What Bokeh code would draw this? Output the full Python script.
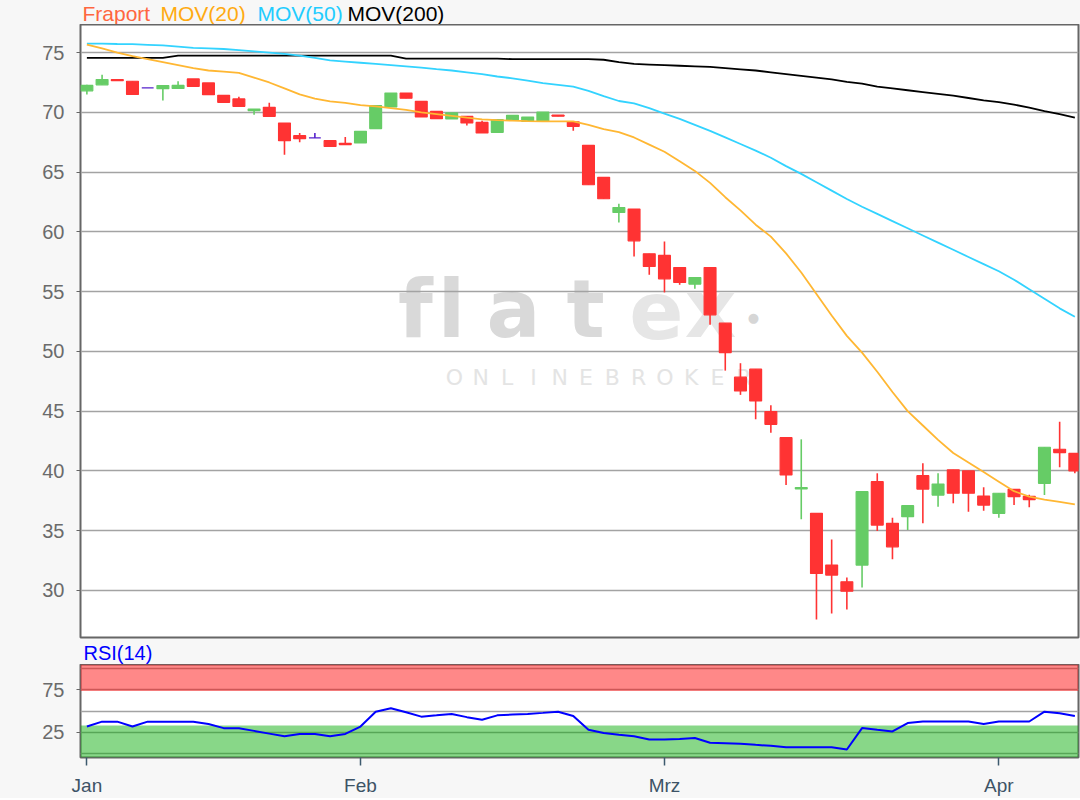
import pandas as pd
from bokeh.plotting import figure
from bokeh.layouts import column
from bokeh.models import Range1d, FixedTicker, Label, BoxAnnotation, ColumnDataSource
from bokeh.embed import file_html
from bokeh.resources import INLINE

# ---------------- data ----------------
dates = pd.bdate_range("2020-01-08", "2020-04-08")
month_names = {1: "Jan", 2: "Feb", 3: "Mrz", 4: "Apr"}

opens = [71.8, 72.3, 72.75, 72.6, 72.05, 71.98, 72.0, 72.8, 72.46, 71.42,
         71.12, 70.15, 70.42, 69.1, 68.05, 67.86, 67.63, 67.4, 67.44, 68.64,
         70.45, 71.62, 70.92, 70.08, 69.45, 69.67, 69.16, 68.33, 69.39, 69.25,
         69.3, 69.76, 69.2, 67.24, 64.56, 61.63, 61.91, 58.17, 58.03, 57.02,
         55.63, 57.02, 52.36, 47.84, 48.51, 44.97, 42.78, 38.5, 36.45, 32.12,
         30.72, 32.12, 39.1, 35.61, 36.17, 39.6, 37.98, 40.09, 40.0, 37.9,
         36.45, 38.46, 37.87, 38.96, 41.81, 41.47]
closes = [72.25, 72.75, 72.65, 71.5, 72.05, 72.24, 72.25, 72.18, 71.48, 70.84,
          70.5, 70.28, 69.67, 67.63, 67.8, 67.86, 67.15, 67.3, 68.41, 70.56,
          71.62, 71.18, 69.61, 69.47, 69.95, 69.11, 68.27, 69.39, 69.75, 69.61,
          70.03, 69.68, 68.83, 63.94, 62.77, 62.04, 59.25, 57.1, 56.07, 55.77,
          56.18, 53.06, 49.9, 46.69, 45.85, 43.9, 39.66, 38.6, 31.42, 31.28,
          29.94, 38.26, 35.47, 33.65, 37.09, 38.48, 38.9, 38.13, 38.13, 37.14,
          38.13, 37.84, 37.6, 41.98, 41.53, 39.99]
highs = [72.3, 73.15, 72.75, 72.6, 72.05, 72.24, 72.6, 72.8, 72.46, 71.42,
         71.3, 70.28, 70.8, 69.1, 68.27, 68.27, 67.63, 67.94, 68.41, 70.56,
         71.62, 71.62, 70.92, 70.08, 69.95, 69.67, 69.3, 69.39, 69.75, 69.61,
         70.03, 69.76, 69.2, 67.24, 64.56, 62.35, 61.91, 58.17, 59.2, 57.02,
         56.18, 57.02, 52.36, 49.01, 48.51, 45.5, 42.78, 42.64, 36.45, 34.27,
         31.09, 38.26, 39.8, 36.08, 37.09, 40.64, 39.8, 40.09, 40.0, 38.63,
         38.13, 38.46, 38.0, 41.98, 44.12, 41.47]
lows = [71.5, 72.3, 72.65, 71.5, 72.05, 71.0, 72.0, 72.18, 71.48, 70.84,
        70.5, 69.8, 69.67, 66.46, 67.49, 67.86, 67.15, 67.3, 67.44, 68.64,
        70.45, 71.18, 69.61, 69.47, 69.45, 68.9, 68.27, 68.33, 69.39, 69.25,
        69.3, 69.68, 68.47, 63.94, 62.77, 60.79, 57.94, 56.41, 54.93, 55.57,
        55.23, 52.22, 48.39, 46.36, 44.32, 43.2, 38.82, 35.95, 27.57, 28.07,
        28.41, 30.25, 34.97, 32.6, 35.05, 35.61, 37.0, 37.29, 36.59, 36.67,
        36.08, 37.14, 36.95, 37.98, 40.31, 39.8]

mov20 = [75.67, 75.35, 75.0, 74.7, 74.45, 74.2, 73.95, 73.7, 73.5, 73.4,
         73.3, 72.9, 72.5, 72.0, 71.5, 71.15, 70.92, 70.8, 70.6, 70.5,
         70.36, 70.2, 70.0, 69.85, 69.7, 69.55, 69.42, 69.35, 69.3, 69.27,
         69.25, 69.25, 69.25, 68.95, 68.6, 68.35, 67.9, 67.3, 66.7, 65.9,
         65.1, 64.1, 62.9, 61.8, 60.6, 59.6, 58.2, 56.6, 54.8, 53.0,
         51.3, 49.9, 48.3, 46.6, 45.0, 43.8, 42.6, 41.5, 40.7, 39.9,
         39.1, 38.3, 37.85, 37.6, 37.4, 37.2]
mov50 = [75.75, 75.75, 75.72, 75.7, 75.65, 75.6, 75.5, 75.4, 75.35, 75.3,
         75.2, 75.1, 75.0, 74.9, 74.75, 74.55, 74.35, 74.25, 74.15, 74.05,
         73.95, 73.85, 73.75, 73.62, 73.5, 73.35, 73.2, 73.0, 72.85, 72.65,
         72.45, 72.3, 72.15, 71.8, 71.35, 70.95, 70.75, 70.35, 69.9, 69.45,
         68.95, 68.45, 67.9, 67.35, 66.8, 66.2, 65.5, 64.85, 64.15, 63.45,
         62.75, 62.1, 61.5, 60.9, 60.3, 59.7, 59.1, 58.5, 57.9, 57.3,
         56.7, 56.0, 55.2, 54.4, 53.6, 52.9]
mov200 = [74.55, 74.55, 74.55, 74.55, 74.55, 74.55, 74.75, 74.75, 74.75, 74.75,
          74.75, 74.75, 74.75, 74.75, 74.75, 74.75, 74.75, 74.75, 74.75, 74.75,
          74.75, 74.5, 74.5, 74.5, 74.5, 74.5, 74.5, 74.5, 74.45, 74.45,
          74.45, 74.45, 74.45, 74.45, 74.4, 74.2, 74.05, 74.0, 73.95, 73.9,
          73.85, 73.8, 73.7, 73.6, 73.5, 73.35, 73.2, 73.05, 72.9, 72.75,
          72.55, 72.4, 72.15, 72.0, 71.85, 71.7, 71.55, 71.4, 71.2, 71.0,
          70.85, 70.65, 70.4, 70.1, 69.85, 69.55]
rsi = [31.9, 37.6, 37.6, 31.9, 37.6, 37.6, 37.6, 37.6, 34.8, 30.0,
       30.0, 26.8, 23.6, 20.4, 23.2, 23.2, 20.4, 23.2, 31.9, 49.3,
       53.3, 48.6, 43.5, 45.0, 46.6, 42.9, 39.8, 45.0, 46.0, 46.6,
       47.9, 49.3, 44.3, 28.1, 24.3, 22.3, 20.4, 16.6, 16.6, 17.3,
       18.5, 12.8, 12.2, 11.6, 10.4, 9.3, 7.7, 7.7, 7.7, 7.7,
       5.0, 30.1, 28.0, 26.1, 36.0, 37.8, 37.8, 37.8, 37.8, 34.8,
       37.8, 37.8, 37.8, 49.3, 47.4, 44.3]

price_ticks = [30, 35, 40, 45, 50, 55, 60, 65, 70, 75]
rsi_label_ticks = [25, 75]
rsi_grid_ticks = [0, 25, 50, 75, 100]
rsi_high_zone = 73.5
rsi_low_zone = 33.0

legend_items = [("Fraport", "#ff6640"), ("MOV(20)", "#ffaa11"),
                ("MOV(50)", "#22ccff"), ("MOV(200)", "#000000")]

# ---------------- derived ----------------
idx = list(range(len(dates)))
UP, DOWN, FLAT = "#66cc66", "#ff3333", "#5522cc"
colors = [UP if c > o else (DOWN if c < o else FLAT) for o, c in zip(opens, closes)]
src = ColumnDataSource(dict(
    x=idx, o=opens, c=closes, h=highs, l=lows,
    top=[max(o, c) for o, c in zip(opens, closes)],
    bot=[min(o, c) for o, c in zip(opens, closes)],
    col=colors, m20=mov20, m50=mov50, m200=mov200, rsi=rsi))

month_ticks = {}
for i, d in enumerate(dates):
    if d.month not in [dates[j].month for j in month_ticks.values()]:
        month_ticks[month_names[d.month]] = i
tick_pos = list(month_ticks.values())
tick_labels = {pos: name for name, pos in month_ticks.items()}

FONT = "Liberation Sans"
W = 1080
BG = "#f7f7f7"
xr = Range1d(-0.42, len(idx) - 0.76)


def strip(height):
    """A plain text row; its frame is aligned with the charts' frames below."""
    s = figure(width=W, height=height, title=None, output_backend="svg",
               toolbar_location=None, x_axis_location=None, y_axis_location=None,
               min_border_left=80, min_border_right=2, min_border_top=0, min_border_bottom=0,
               x_range=Range1d(0, 1), y_range=Range1d(0, 1))
    s.background_fill_color = BG
    s.border_fill_color = BG
    s.outline_line_color = None
    s.grid.visible = False
    return s


# ---------------- legend strip ----------------
top_strip = strip(24)
for (txt, colr), sx in zip(legend_items, [2, 80, 177, 267]):
    top_strip.add_layout(Label(x=sx, y=11.5, x_units="screen", y_units="screen", text=txt,
                               text_font=FONT, text_font_size="21px", text_color=colr,
                               text_baseline="middle"))

# ---------------- main price chart ----------------
p = figure(width=W, height=616, x_range=xr, y_range=Range1d(26.06, 77.35), title=None,
           output_backend="svg", toolbar_location=None, x_axis_location=None,
           min_border_left=80, min_border_right=2, min_border_top=0, min_border_bottom=3)
p.background_fill_color = "white"
p.border_fill_color = BG
p.outline_line_color = "#666666"
p.outline_line_width = 2
for g in p.xgrid:
    g.visible = False
p.yaxis.ticker = FixedTicker(ticks=price_ticks)
p.ygrid.ticker = FixedTicker(ticks=price_ticks)
p.ygrid.grid_line_color = "#a3a3a3"
p.ygrid.grid_line_width = 1.6
p.yaxis.axis_line_color = None
p.yaxis.major_tick_line_color = "#666666"
p.yaxis.major_tick_out = 4
p.yaxis.major_tick_in = 0
p.yaxis.minor_tick_line_color = None
p.yaxis.major_label_standoff = 12
p.yaxis.major_label_text_font = FONT
p.yaxis.major_label_text_font_size = "20px"
p.yaxis.major_label_text_color = "#6b6b6b"

# watermark
wm_letters = [("f", 335, "#d9d9d9"), ("l", 371, "#d9d9d9"), ("a", 433, "#d9d9d9"),
              ("t", 505, "#d9d9d9"), ("e", 576, "#e6e6e6"), ("x", 630, "#e6e6e6")]
for ch, sx, colr in wm_letters:
    p.add_layout(Label(x=sx, y=328, x_units="screen", y_units="screen", text=ch,
                       text_align="center", text_baseline="middle",
                       text_font="DejaVu Sans", text_font_style="bold",
                       text_font_size="80px", text_color=colr, level="image"))
p.add_layout(Label(x=673, y=320, x_units="screen", y_units="screen", text="\u25cf",
                   text_align="center", text_baseline="middle", text_font="DejaVu Sans",
                   text_font_size="13px", text_color="#d6d6d6", level="image"))
for k, ch in enumerate("ONLINEBROKER"):
    p.add_layout(Label(x=374 + 26.3 * k, y=260, x_units="screen", y_units="screen", text=ch,
                       text_align="center", text_baseline="middle",
                       text_font="DejaVu Sans", text_font_size="22px",
                       text_color="#e4e4e4", level="image"))

p.segment(x0="x", y0="h", x1="x", y1="l", source=src, line_color="col", line_width=1.6)
p.vbar(x="x", width=0.78, top="top", bottom="bot", source=src,
       fill_color="col", line_color="col", line_width=1.2)
p.line("x", "m200", source=src, line_color="#000000", line_width=1.8)
p.line("x", "m50", source=src, line_color="#33d3ff", line_width=1.8)
p.line("x", "m20", source=src, line_color="#ffb733", line_width=1.8)

# ---------------- RSI title strip ----------------
rsi_strip = strip(24)
rsi_strip.add_layout(Label(x=3, y=11.5, x_units="screen", y_units="screen", text="RSI(14)",
                           text_font=FONT, text_font_size="20px", text_color="#0000ff",
                           text_baseline="middle"))

# ---------------- RSI chart ----------------
r = figure(width=W, height=134, x_range=xr, y_range=Range1d(-4.4, 104.6), title=None,
           output_backend="svg", toolbar_location=None,
           min_border_left=80, min_border_right=2, min_border_top=0, min_border_bottom=40)
r.background_fill_color = "white"
r.border_fill_color = BG
r.outline_line_color = "#666666"
r.outline_line_width = 2
r.xgrid.visible = False
r.ygrid.ticker = FixedTicker(ticks=rsi_grid_ticks)
r.ygrid.grid_line_color = "#a3a3a3"
r.ygrid.grid_line_width = 1.6
r.yaxis.ticker = FixedTicker(ticks=rsi_label_ticks)
r.yaxis.axis_line_color = None
r.yaxis.major_tick_line_color = "#666666"
r.yaxis.major_tick_out = 4
r.yaxis.major_tick_in = 0
r.yaxis.minor_tick_line_color = None
r.yaxis.major_label_standoff = 12
r.yaxis.major_label_text_font = FONT
r.yaxis.major_label_text_font_size = "20px"
r.yaxis.major_label_text_color = "#6b6b6b"

r.xaxis.ticker = FixedTicker(ticks=tick_pos)
r.xaxis.major_label_overrides = tick_labels
r.xaxis.axis_line_color = None
r.xaxis.major_tick_line_color = "#3d5a6e"
r.xaxis.major_tick_line_width = 1.5
r.xaxis.major_tick_out = 8
r.xaxis.major_tick_in = 0
r.xaxis.minor_tick_line_color = None
r.xaxis.major_label_standoff = 9
r.xaxis.major_label_text_font = FONT
r.xaxis.major_label_text_font_size = "19px"
r.xaxis.major_label_text_color = "#3d5366"

r.add_layout(BoxAnnotation(bottom=rsi_high_zone, fill_color="#ff0000", fill_alpha=0.467,
                           line_color=None, level="underlay"))
r.add_layout(BoxAnnotation(top=rsi_low_zone, fill_color="#00aa00", fill_alpha=0.467,
                           line_color=None, level="underlay"))
r.line("x", "rsi", source=src, line_color="#0000ff", line_width=2)

layout = column(top_strip, p, rsi_strip, r, spacing=0)
layout.background = BG
open("out.html", "w").write(file_html(layout, INLINE))
